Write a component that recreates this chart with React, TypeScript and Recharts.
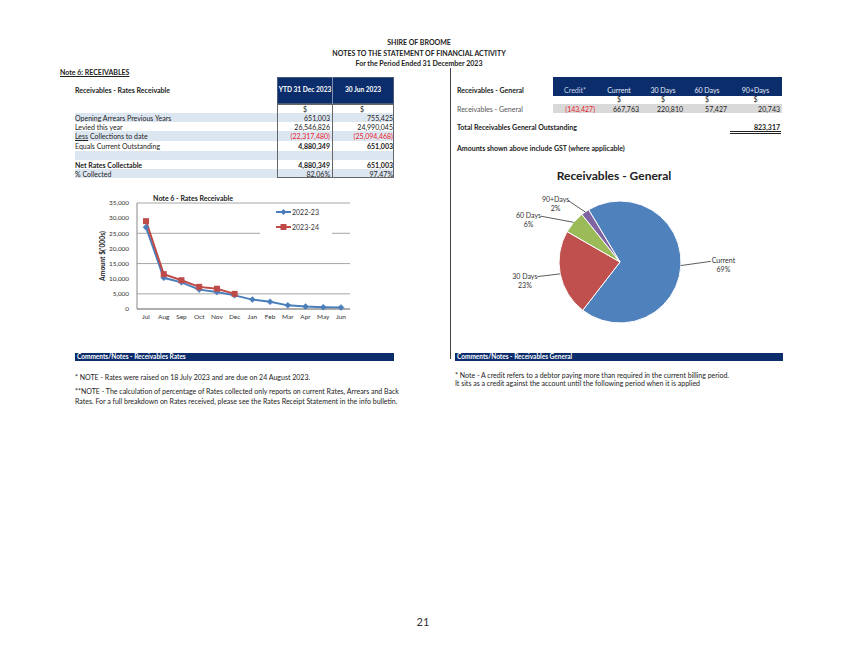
import React from 'react';
import { LineChart, Line, XAxis, YAxis, CartesianGrid, Legend, PieChart, Pie, Cell, Label } from 'recharts';

// ---------- data ----------
const months = ['Jul', 'Aug', 'Sep', 'Oct', 'Nov', 'Dec', 'Jan', 'Feb', 'Mar', 'Apr', 'May', 'Jun'];
const rates2223 = [27000, 10300, 8800, 6400, 5600, 4500, 3100, 2400, 1200, 800, 600, 500];
const rates2324: (number | null)[] = [29000, 11500, 9500, 7300, 6700, 5000, null, null, null, null, null, null];
const yTicks = [0, 5000, 10000, 15000, 20000, 25000, 30000, 35000];

const rateLabels = ['Opening Arrears Previous Years', 'Levied this year', 'Collections to date', 'Equals Current Outstanding', '', 'Net Rates Collectable', '% Collected'];
const ytdValues = ['651,003', '26,546,826', '(22,317,480)', '4,880,349', '', '4,880,349', '82.06%'];
const junValues = ['755,425', '24,990,045', '(25,094,468)', '651,003', '', '651,003', '97.47%'];

const agingHeaders = ['Credit*', 'Current', '30 Days', '60 Days', '90+Days'];
const creditValue = -143427;
const pieCategories = ['Current', '30 Days', '60 Days', '90+Days'];
const pieValues = [667763, 220810, 57427, 20743];
const totalGeneral = 823317;

const lineData = months.map((m, i) => ({ month: m, y2223: rates2223[i], y2324: rates2324[i] }));
const pieData = pieCategories.map((n, i) => ({ name: n, value: pieValues[i] }));

// ---------- style ----------
const F = "Lato, 'Open Sans', 'DejaVu Sans', sans-serif";
const NAVY = '#0B2D6B';
const SHADE = '#DCE6F1';
const TXT = '#222';
const RED = '#E8202A';
const BLUE = '#4A7EBB';
const REDL = '#BE4B48';
const PIE_COLORS = ['#4F81BD', '#C0504D', '#9BBB59', '#8064A2'];
const LABEL_NUDGE_X = [0, 0, -13, 0];
const LABEL_NUDGE_Y = [0, 0, 3, 0];
const RADIAN = Math.PI / 180;

type TProps = {
  x: number; y: number; children?: React.ReactNode; align?: 'left' | 'right' | 'center';
  bold?: boolean; color?: string; size?: number; underline?: boolean; w?: number;
};
const T = ({ x, y, children, align = 'left', bold, color = TXT, size = 7, underline, w = 400 }: TProps) => {
  const lh = size + 3;
  const left = align === 'left' ? x : align === 'right' ? x - w : x - w / 2;
  return (
    <div style={{
      position: 'absolute', left, top: y - lh / 2, width: w, height: lh, lineHeight: lh + 'px',
      fontSize: size, fontWeight: bold ? 700 : 400, color, textAlign: align, whiteSpace: 'nowrap',
      textDecoration: underline ? 'underline' : 'none', fontFamily: F,
    }}>{children}</div>
  );
};

const Box = ({ x, y, w, h, bg, style }: { x: number; y: number; w: number; h: number; bg?: string; style?: React.CSSProperties }) => (
  <div style={{ position: 'absolute', left: x, top: y, width: w, height: h, background: bg, boxSizing: 'border-box', ...style }} />
);

const Diamond = (props: any) => {
  const { cx, cy, value } = props;
  if (value == null || cx == null || cy == null) return null;
  return <path d={`M${cx},${cy - 3} L${cx + 3},${cy} L${cx},${cy + 3} L${cx - 3},${cy} Z`} fill={BLUE} stroke={BLUE} strokeWidth={0.5} />;
};
const Square = (props: any) => {
  const { cx, cy, value } = props;
  if (value == null || cx == null || cy == null) return null;
  return <rect x={cx - 3} y={cy - 3} width={6} height={6} fill={REDL} />;
};

const LegendContent = (props: any) => {
  const payload = props.payload || [];
  return (
    <div style={{ background: '#fff', width: 72, height: 32, position: 'relative', fontFamily: F }}>
      {payload.map((p: any, i: number) => (
        <div key={i} style={{ position: 'absolute', left: 16, top: 1 + i * 15, height: 12, display: 'flex', alignItems: 'center' }}>
          <svg width={15} height={12}>
            <line x1={0} y1={6} x2={15} y2={6} stroke={p.color} strokeWidth={2} />
            {i === 0
              ? <path d="M7.5,3 L10.5,6 L7.5,9 L4.5,6 Z" fill={p.color} />
              : <rect x={4.5} y={3} width={6} height={6} fill={p.color} />}
          </svg>
          <span style={{ fontSize: 7, color: '#333', marginLeft: 1 }}>{p.value}</span>
        </div>
      ))}
    </div>
  );
};

const renderPieLabel = (props: any) => {
  const { cx, cy, midAngle, outerRadius, percent, name, index } = props;
  const cos = Math.cos(-midAngle * RADIAN);
  const sin = Math.sin(-midAngle * RADIAN);
  const right = cos >= 0;
  const sx = cx + outerRadius * cos;
  const sy = cy + outerRadius * sin;
  const ex = cx + (outerRadius + 14) * cos + (right ? 16 : -9) + (LABEL_NUDGE_X[index] || 0);
  const ey = cy + (outerRadius + 14) * sin - (right ? 5 : 0) + (LABEL_NUDGE_Y[index] || 0);
  const w = String(name).length * 3.3;
  const tx = right ? ex + 1 + w / 2 : ex - 1 - w / 2;
  return (
    <g>
      <polyline points={`${sx},${sy} ${ex},${ey}`} stroke="#333" strokeWidth={0.8} fill="none" />
      <text x={tx} y={ey - 1} textAnchor="middle" dominantBaseline="central" fontSize={7} fill="#333" fontFamily={F}>{name}</text>
      <text x={tx} y={ey + 8} textAnchor="middle" dominantBaseline="central" fontSize={7} fill="#333" fontFamily={F}>{Math.round(percent * 100)}%</text>
    </g>
  );
};

const rowTops = [113, 122, 131, 141, 151, 160, 169];
const rowHeights = [9, 9, 10, 10, 9, 9, 9];
const rowShaded = [true, false, true, false, true, false, true];
const colEdges = [553, 597, 641, 685, 729, 782];

export default function App() {
  const fmt = (v: number) => v < 0 ? `(${Math.abs(v).toLocaleString('en-US')})` : v.toLocaleString('en-US');
  const agingValues = [creditValue, ...pieValues];
  return (
    <div style={{ position: 'absolute', left: 0, top: 0, width: 846, height: 654, background: '#fff', fontFamily: F, overflow: 'hidden' }}>
      {/* titles */}
      <T x={419} y={42} align="center" bold>SHIRE OF BROOME</T>
      <T x={419} y={53} align="center" bold>NOTES TO THE STATEMENT OF FINANCIAL ACTIVITY</T>
      <T x={419} y={63} align="center" bold>For the Period Ended 31 December 2023</T>
      <T x={60} y={72} bold underline>Note 6: RECEIVABLES</T>

      {/* vertical separator */}
      <Box x={450} y={68} w={1} h={291} bg="#444" />

      {/* ---- left table ---- */}
      <T x={75} y={90} bold>Receivables - Rates Receivable</T>
      {rowTops.map((t, i) => rowShaded[i] ? <Box key={'s' + i} x={75} y={t} w={319} h={rowHeights[i]} bg={SHADE} /> : null)}
      <Box x={277} y={77} w={117} h={27} bg={NAVY} style={{ border: '1px solid #4a5a7a' }} />
      <Box x={332} y={77} w={1} h={27} bg="#8090b0" />
      <T x={305} y={90} align="center" bold color="#fff" w={100} size={6.6}>YTD 31 Dec 2023</T>
      <T x={363} y={90} align="center" bold color="#fff" w={100} size={6.6}>30 Jun 2023</T>
      <Box x={277} y={104} w={117} h={74} style={{ border: '1px solid #666' }} />
      <Box x={332} y={104} w={1} h={74} bg="#666" />
      <T x={305} y={109} align="center" w={20}>$</T>
      <T x={362} y={109} align="center" w={20}>$</T>
      {rateLabels.map((lab, i) => {
        const cy = rowTops[i] + rowHeights[i] / 2;
        const isRed = ytdValues[i].startsWith('(');
        const boldVals = i === 3 || i === 5;
        return (
          <React.Fragment key={'r' + i}>
            <T x={75} y={cy} bold={i === 5}>
              {i === 2 ? <><span style={{ textDecoration: 'underline' }}>Less</span> {lab}</> : lab}
            </T>
            <T x={330} y={cy} align="right" w={60} bold={boldVals} color={isRed ? RED : TXT}>{ytdValues[i]}</T>
            <T x={393} y={cy} align="right" w={60} bold={boldVals} color={isRed ? RED : TXT}>{junValues[i]}</T>
          </React.Fragment>
        );
      })}

      {/* ---- right table ---- */}
      <T x={457} y={90} bold>Receivables - General</T>
      <Box x={553} y={77} w={229} h={19} bg={NAVY} />
      {agingHeaders.map((h, i) => (
        <T key={'h' + i} x={(colEdges[i] + colEdges[i + 1]) / 2} y={90} align="center" w={44} color={i === 0 ? '#C8D0E8' : '#E8EEF8'}>{h}</T>
      ))}
      {agingHeaders.slice(1).map((h, i) => (
        <T key={'d' + i} x={(colEdges[i + 1] + colEdges[i + 2]) / 2} y={99} align="center" w={20}>$</T>
      ))}
      <Box x={553} y={104} w={229} h={9} bg="#D9D9D9" />
      <T x={457} y={108.5} color="#555">Receivables - General</T>
      {agingValues.map((v, i) => (
        <T key={'v' + i} x={colEdges[i + 1] - 2} y={108.5} align="right" w={44} color={v < 0 ? RED : TXT}>{fmt(v)}</T>
      ))}
      <T x={457} y={127} bold>Total Receivables General Outstanding</T>
      <T x={780} y={127} align="right" w={60} bold underline>{fmt(totalGeneral)}</T>
      <Box x={730} y={131} w={51} h={1} bg="#222" />
      <Box x={730} y={133} w={51} h={1} bg="#222" />
      <T x={457} y={148} bold>Amounts shown above include GST (where applicable)</T>

      {/* ---- line chart ---- */}
      <T x={193} y={198} align="center" bold w={120}>Note 6 - Rates Receivable</T>
      <div style={{ position: 'absolute', left: 90, top: 188 }}>
        <LineChart width={320} height={140} data={lineData} margin={{ top: 15, right: 60, bottom: 0, left: 0 }}>
          <CartesianGrid vertical={false} stroke="#A6A6A6" strokeWidth={1} />
          <XAxis dataKey="month" padding={{ left: 9, right: 9 }} tickLine={false} tickSize={3} interval={0} height={19}
            axisLine={{ stroke: '#888' }} tick={{ fontSize: 6.5, fill: '#333', fontFamily: F }} />
          <YAxis domain={[0, 35000]} ticks={yTicks} width={47} tickLine={false} axisLine={{ stroke: '#888' }}
            tick={{ fontSize: 6.4, fill: '#333', fontFamily: F }} tickFormatter={(v: number) => v.toLocaleString('en-US')}>
            <Label content={(p: any) => {
              const vb = p.viewBox || { x: 0, y: 15, width: 47, height: 106 };
              const x = vb.x + 12;
              const y = vb.y + vb.height / 2;
              return <text x={x} y={y} transform={`rotate(-90 ${x} ${y})`} textAnchor="middle" dominantBaseline="central" fontSize={6.8} fontWeight={700} fill="#222" fontFamily={F}>Amount $('000s)</text>;
            }} />
          </YAxis>
          <Legend layout="vertical" align="center" verticalAlign="middle" content={<LegendContent />}
            wrapperStyle={{ top: 17, left: 170, width: 72, height: 32 }} />
          <Line dataKey="y2223" name="2022-23" stroke={BLUE} strokeWidth={2} dot={<Diamond />} activeDot={false} isAnimationActive={false} />
          <Line dataKey="y2324" name="2023-24" stroke={REDL} strokeWidth={2} dot={<Square />} activeDot={false} isAnimationActive={false} />
        </LineChart>
      </div>

      {/* ---- pie chart ---- */}
      <T x={614} y={175} align="center" bold size={12} w={200}>Receivables - General</T>
      <div style={{ position: 'absolute', left: 455, top: 185 }}>
        <PieChart width={330} height={160} margin={{ top: 0, right: 0, bottom: 0, left: 0 }}>
          <Pie data={pieData} dataKey="value" nameKey="name" cx={165} cy={77} outerRadius={61}
            startAngle={121} endAngle={-239} stroke="#fff" strokeWidth={1}
            label={renderPieLabel} labelLine={false} isAnimationActive={false}>
            {pieData.map((d, i) => <Cell key={d.name} fill={PIE_COLORS[i]} />)}
          </Pie>
        </PieChart>
      </div>

      {/* ---- comments ---- */}
      <Box x={75} y={353} w={319} h={8} bg={NAVY} />
      <T x={77} y={357} bold color="#fff" size={6.5}>Comments/Notes - Receivables Rates</T>
      <T x={75} y={377}>* NOTE - Rates were raised on 18 July 2023 and are due on 24 August 2023.</T>
      <T x={75} y={391}>**NOTE - The calculation of percentage of Rates collected only reports on current Rates, Arrears and Back</T>
      <T x={75} y={401}>Rates. For a full breakdown on Rates received, please see the Rates Receipt Statement in the info bulletin.</T>

      <Box x={455} y={353} w={328} h={8} bg={NAVY} />
      <T x={457} y={357} bold color="#fff" size={6.5}>Comments/Notes - Receivables General</T>
      <T x={455} y={375}>* Note - A credit refers to a debtor paying more than required in the current billing period.</T>
      <T x={455} y={383}>It sits as a credit against the account until the following period when it is applied</T>

      <T x={423} y={622} align="center" size={11} color="#333" w={40}>21</T>
    </div>
  );
}
